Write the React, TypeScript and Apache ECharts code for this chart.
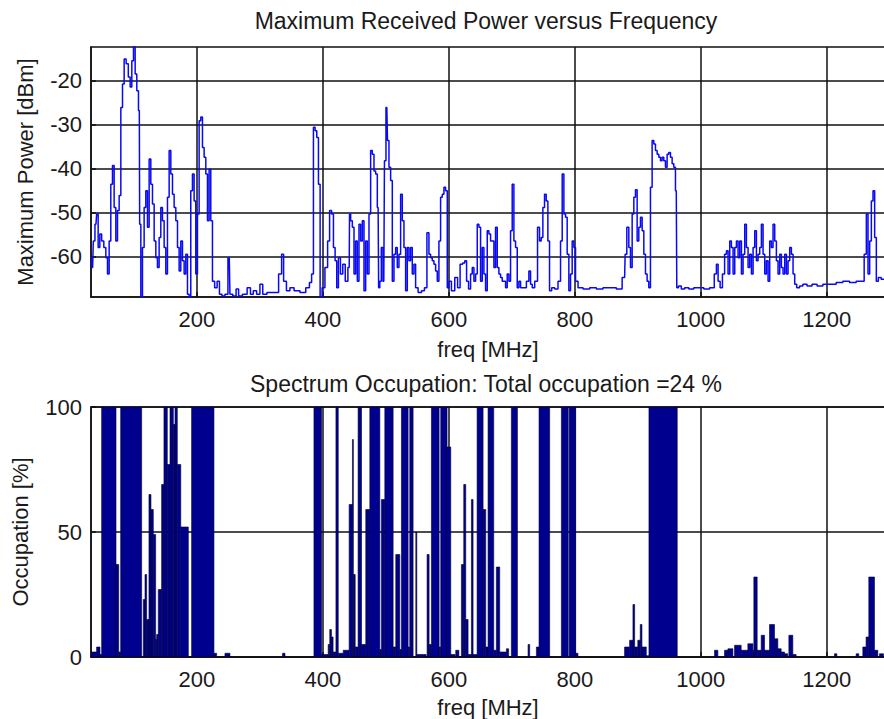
import React, { useEffect, useRef } from "react";
import * as echarts from "echarts";

// ---------- data ----------
const freqTicks: number[] = [200, 400, 600, 800, 1000, 1200];
const powerTicks: number[] = [-60, -50, -40, -30, -20];
const occupationTicks: number[] = [0, 50, 100];

const freqRange: [number, number] = [32, 1294];
const powerRange: [number, number] = [-69.1, -12.4];
const occupationRange: [number, number] = [0, 100];

const topTitle = "Maximum Received Power versus Frequency";
const bottomTitle = "Spectrum Occupation: Total occupation =24 %";
const freqLabel = "freq [MHz]";
const powerLabel = "Maximum Power [dBm]";
const occupationLabel = "Occupation [%]";

// [frequency MHz, maximum power dBm]
const maxPowerTrace: [number, number][] = [
  [32, -60.2], [34.6, -62.4], [36.7, -56.4], [39.9, -52.6], [42, -50.3], [44.7, -57.9], [47.3, -54.8], [50.5, -56.4],
  [54.2, -57.9], [56.9, -60.2], [59.5, -63.9], [62.1, -56.4], [64.8, -43.5], [67.4, -39.3], [70.1, -48.8], [72.7, -56.4],
  [75.4, -49.5], [78, -46.1], [80.7, -26.1], [83.3, -20.8], [86, -15.1], [89.6, -16.2], [92.8, -19.2], [95.5, -21.5],
  [98.1, -15.5], [100.8, -12], [103.4, -18.5], [106, -22.3], [108.7, -26.8], [109.8, -52.6], [112.4, -70], [115, -57.9],
  [117.7, -48.8], [120.3, -45], [123, -53.3], [125.6, -37.8], [128.3, -43.5], [130.9, -48], [133.6, -56.4], [136.2, -60.2],
  [138.8, -62.4], [141.5, -55.6], [144.1, -48.8], [146.8, -51.8], [149.4, -57.9], [152.1, -63.9], [154.7, -46.5], [157.4, -35.9],
  [160, -41.2], [162.7, -45.8], [165.3, -48.8], [168, -51.8], [170.6, -57.9], [173.2, -63.2], [175.9, -56.4], [178.5, -60.9],
  [181.2, -63.9], [183.8, -59.4], [186.5, -68.5], [189.1, -70], [191.7, -45], [194.4, -41.2], [197, -47.3], [199.7, -63.9],
  [202.3, -50.3], [205, -29.1], [207.6, -28.3], [210.3, -35.2], [212.9, -37.4], [215.6, -41.2], [218.2, -51.8], [220.8, -40.1],
  [223.5, -51.8], [226.1, -65.5], [230.4, -67], [234, -65.5], [237.8, -68.5], [242, -68.9], [247.3, -68.5], [251.5, -60.2],
  [253.6, -68.5], [260.5, -68.9], [264.2, -67.3], [268.4, -68.9], [276.4, -68.5], [283.3, -67], [287, -68.5], [292.3, -67.7],
  [297.5, -68.5], [302.8, -66.2], [306.5, -68.5], [316, -68.1], [326.6, -68.1], [333, -63.9], [336.2, -59.4], [339.3, -65.5],
  [345.2, -67.7], [350.4, -67], [358.4, -67.7], [369, -68.1], [376.9, -67], [380.6, -65.8], [383.8, -63.9], [386.4, -30.6],
  [389.1, -31.4], [391.7, -32.9], [394.4, -43.5], [397, -69.2], [400.7, -67], [406, -62.4], [409.2, -56.4], [412.3, -49.5],
  [415.5, -50.3], [418.2, -57.9], [420.8, -60.9], [423.4, -67], [426.1, -60.2], [429.8, -63.9], [433.5, -61.7], [437.7, -65.5],
  [441.9, -62.4], [442.9, -50.3], [445.5, -51.8], [448.2, -53.3], [450.8, -63.9], [453.4, -56.4], [456.1, -65.5], [458.7, -52.6],
  [461.4, -56.4], [464, -51.8], [466.7, -67.7], [469.3, -56.4], [472, -63.9], [474.6, -50.3], [477.2, -35.9], [479.9, -36.7],
  [482.5, -40.5], [485.2, -41.2], [487.8, -48.8], [489.4, -67], [491.5, -65.5], [494.2, -57.9], [496.8, -65.5], [498.9, -38.2],
  [501.6, -26.1], [503.7, -33.6], [506.3, -39.7], [509, -42.7], [511.6, -65.5], [514.3, -59.4], [516.9, -57.9], [519.5, -62.4],
  [522.2, -59.4], [524.8, -45.8], [527.5, -51.8], [530.1, -57.9], [532.8, -67.7], [535.4, -57.9], [538, -60.9], [540.7, -57.9],
  [543.3, -63.9], [546, -61.7], [548.6, -67], [553.9, -68.1], [559.2, -67.7], [563.4, -67], [567.1, -54.5], [569.8, -59.4],
  [572.4, -60.2], [575.1, -60.9], [577.7, -61.7], [580.4, -63.2], [583, -65.5], [585.6, -56.4], [588.3, -46.5], [590.9, -45.8],
  [593.6, -44.2], [596.2, -45], [598.9, -67], [601.5, -65.5], [606.8, -67.7], [612.1, -64.7], [615.8, -67], [620, -61.7],
  [623.7, -61.4], [626.9, -60.9], [629.5, -65.5], [633.2, -67.3], [635.9, -63.9], [638.5, -62.4], [641.2, -65.5], [643.8, -63.9],
  [646.5, -52.6], [649.1, -53.3], [651.7, -65.5], [654.4, -57.9], [657, -63.9], [659.7, -67.7], [662.3, -54.1], [665, -54.8],
  [667.6, -56.4], [670.3, -56.4], [672.9, -62.4], [675.5, -53.3], [678.2, -62.4], [680.8, -63.9], [683.5, -64.7], [686.1, -65.5],
  [688.8, -65.5], [691.4, -67], [694, -63.9], [696.7, -65.5], [699.3, -54.1], [702, -43.5], [704.6, -56.4], [707.3, -57.9],
  [709.9, -67], [712.6, -65.5], [715.2, -67], [720.5, -67], [725.8, -65.5], [728.4, -63.2], [731.1, -66.2], [733.7, -67],
  [739, -65.5], [742.7, -53.3], [745.3, -56.4], [748, -55.6], [750.6, -48.8], [753.3, -45.8], [755.9, -47.3], [758.6, -56.4],
  [761.2, -67.7], [765.4, -67], [770.7, -67.3], [776, -65.5], [778.7, -56.4], [781.3, -41.2], [784, -50.3], [786.6, -51],
  [789.2, -59.4], [791.9, -67.7], [794.5, -63.9], [797.2, -56.4], [799.8, -57.9], [802.5, -65.5], [807.8, -67], [818.4, -67.3],
  [828.9, -67], [839.5, -67.3], [850, -67], [860.6, -67], [871.2, -67.3], [879.1, -64.7], [880.7, -59.4], [884.4, -53.3],
  [887.1, -57.9], [889.7, -62.4], [892.4, -50.3], [895, -46.5], [897.6, -44.8], [900.3, -56.4], [902.9, -53.3], [905.6, -51],
  [908.2, -54.1], [910.9, -59.4], [913.5, -63.9], [916.1, -65.5], [918.8, -67], [921.4, -44.2], [924.1, -33.6], [926.7, -34.4],
  [929.4, -35.9], [932, -36.7], [934.7, -37.4], [937.3, -38.2], [939.9, -37.4], [942.6, -38.2], [945.2, -39.7], [947.9, -36.7],
  [950.5, -36.3], [953.2, -37.4], [955.8, -38.9], [958.5, -39.7], [961.1, -45], [962.7, -67], [966.4, -66.6], [971.7, -67.3],
  [977, -67], [984.9, -67.3], [992.8, -67], [1000.8, -67], [1008.7, -67.3], [1019.3, -67], [1023.5, -63.9], [1026.1, -61.7],
  [1028.8, -65.5], [1032.5, -67], [1036.2, -63.9], [1039.4, -59.4], [1042, -58.6], [1044.6, -63.9], [1047.3, -56.4], [1049.9, -57.9],
  [1052.6, -63.9], [1055.2, -57.9], [1057.9, -56.4], [1060.5, -60.2], [1063.2, -56.4], [1065.8, -63.9], [1068.4, -59.4], [1071.1, -52.6],
  [1073.7, -57.9], [1076.4, -62.4], [1079, -59.4], [1081.7, -63.9], [1084.3, -57.9], [1087, -54.1], [1089.6, -60.9], [1092.2, -59.4],
  [1094.9, -57.9], [1097.5, -52.6], [1100.2, -59.4], [1102.8, -63.9], [1105.5, -60.9], [1108.1, -65.5], [1110.7, -56.4], [1113.4, -57.9],
  [1116, -52.6], [1118.7, -56.4], [1121.3, -60.9], [1124, -63.9], [1126.6, -59.4], [1129.3, -62.4], [1131.9, -63.9], [1134.6, -59.4],
  [1137.2, -63.9], [1139.8, -60.9], [1142.5, -57.9], [1145.1, -59.4], [1147.8, -63.9], [1150.4, -66.2], [1154.1, -67], [1159.4, -66.6],
  [1164.7, -66.2], [1172.6, -66.6], [1180.6, -66.2], [1188.5, -66.6], [1199.1, -66.2], [1209.6, -66.2], [1220.2, -65.8], [1230.8, -65.5],
  [1241.4, -65.8], [1251.9, -65.5], [1257.2, -65.5], [1261.5, -59.4], [1264.1, -50.3], [1266.8, -63.9], [1269.4, -56.4], [1272.1, -47.3],
  [1274.7, -45], [1277.3, -55.6], [1280, -65.5], [1283.7, -64.7], [1289, -65.1], [1294, -65],
];

// [bin start MHz, bin end MHz, occupation %]
const occupationBins: [number, number, number][] = [
  [32, 40.9, 2], [40.9, 46.3, 4], [46.3, 48.9, 1], [48.9, 71.7, 100], [71.7, 76, 37], [76, 79.1, 2],
  [79.1, 112.4, 100], [115, 117.7, 23], [117.7, 120.3, 33], [120.3, 124, 15], [124, 127.2, 65], [127.2, 130.9, 59],
  [130.9, 134.6, 49], [134.6, 136.2, 7], [136.2, 138.8, 9], [138.8, 144.1, 27], [144.1, 147.8, 69], [147.8, 153.1, 100],
  [153.1, 157.4, 77], [157.4, 162.7, 100], [162.7, 165.3, 93], [165.3, 169, 100], [169, 174.5, 77], [174.5, 186.5, 52],
  [191.7, 227.2, 100], [227.2, 231.4, 1.5], [244.6, 252.6, 1.5], [336, 340, 1.5],
  [385.9, 398, 100], [398, 408.5, 1], [408.5, 411, 5], [411, 413.7, 11], [413.7, 416.3, 8], [416.3, 420.8, 2],
  [420.8, 424.5, 100], [424.5, 432.4, 1.5], [432.4, 441.8, 2.7], [441.8, 447, 61], [447, 448.5, 87], [448.5, 451.4, 33],
  [451.4, 456, 4], [456, 461.4, 100], [461.4, 468.2, 5], [468.2, 474.6, 59], [474.6, 490.5, 100], [490.5, 493, 3],
  [493, 498.4, 63], [498.4, 511.6, 100], [511.6, 515.8, 4], [515.8, 522.2, 41], [522.2, 524.8, 3], [524.8, 535.4, 100],
  [535.4, 538, 4], [538, 543.3, 100], [547.6, 549.2, 50], [549.2, 564, 1], [565.5, 568.7, 41], [568.7, 572.4, 5],
  [572.4, 584.6, 100], [584.6, 587.2, 4], [587.2, 597.2, 100], [597.2, 603.1, 84], [603.1, 610, 1], [611, 616, 2.7],
  [620, 623.7, 37], [623.7, 626.9, 69], [626.9, 630.6, 15], [630.6, 635.9, 1], [635.9, 638.5, 63], [638.5, 644.9, 1],
  [644.9, 654.4, 100], [654.4, 658.6, 59], [658.6, 662.3, 4], [662.3, 671.3, 100], [671.3, 675.5, 2.7], [675.5, 680.8, 36],
  [680.8, 691.4, 2], [691.4, 695, 3.3], [699.3, 708.9, 100], [725.8, 728.4, 5], [739, 743.2, 4], [743.2, 760.1, 100],
  [778.7, 789.5, 100], [791, 801.4, 100], [801.4, 805, 1.5], [879, 887, 4], [887, 892.3, 6.7], [892.3, 895, 21],
  [895, 900, 4], [900, 903.9, 6.7], [903.9, 906.6, 13], [906.6, 913.5, 4], [913.5, 917.7, 0.5], [917.7, 962.6, 100],
  [1021.8, 1027.1, 2.7], [1037.7, 1043, 2.7], [1043, 1051, 3.3], [1053.6, 1064.1, 4.7], [1064.1, 1074.7, 2.7], [1074.7, 1082.7, 5.3],
  [1082.7, 1084.2, 2.7], [1084.2, 1089.5, 32], [1089.5, 1095.9, 2.7], [1095.9, 1101.2, 8.7], [1101.2, 1109.1, 2.7], [1109.1, 1117, 13],
  [1117, 1122.3, 7.3], [1122.3, 1127.6, 3.3], [1127.6, 1132.9, 2], [1132.9, 1138, 1.3], [1139.8, 1146.1, 8.7], [1146.1, 1151.4, 1],
  [1212.2, 1216, 1.3], [1246.6, 1250.8, 1.3], [1257.2, 1262.4, 4], [1262.4, 1266.7, 8], [1266.7, 1275.7, 32], [1275.7, 1281, 2.7],
  [1283.7, 1290, 1.3],
];

// ---------- styling ----------
const FONT = '"Liberation Sans", Arial, Helvetica, sans-serif';
const TEXT = "#1a1a1a";
const LINE = "#111111";
const TRACE = "#0a0af0";
const BAR_FILL = "#00008f";

const TOP_GRID = { left: 91, top: 47, width: 795, height: 250 };
const BOTTOM_GRID = { left: 91, top: 407, width: 795, height: 250 };

const plainNumber = (v: number) => String(v);

function xAxisFor(gridIndex: number) {
  return {
    type: "value",
    gridIndex,
    min: freqRange[0],
    max: freqRange[1],
    axisLine: { show: true, onZero: false, lineStyle: { color: LINE, width: 1.5 } },
    axisTick: { show: true, inside: true, length: 5, customValues: freqTicks, lineStyle: { color: LINE, width: 1.5 } },
    axisLabel: {
      customValues: freqTicks,
      formatter: plainNumber,
      margin: 22,
      verticalAlign: "middle",
      fontSize: 22,
      fontFamily: FONT,
      color: TEXT,
    },
    splitLine: { show: true, lineStyle: { color: LINE, width: 1.5 } },
  };
}

function yAxisFor(gridIndex: number, range: [number, number], ticks: number[]) {
  return {
    type: "value",
    gridIndex,
    min: range[0],
    max: range[1],
    axisLine: { show: true, onZero: false, lineStyle: { color: LINE, width: 1.5 } },
    axisTick: { show: true, inside: true, length: 5, customValues: ticks, lineStyle: { color: LINE, width: 1.5 } },
    axisLabel: {
      customValues: ticks,
      formatter: plainNumber,
      margin: 9,
      fontSize: 22,
      fontFamily: FONT,
      color: TEXT,
    },
    splitLine: { show: true, lineStyle: { color: LINE, width: 1.5 } },
  };
}

function textEl(text: string, x: number, y: number, size: number, rotate = false) {
  return {
    type: "text",
    x,
    y,
    rotation: rotate ? Math.PI / 2 : 0,
    silent: true,
    style: {
      text,
      x: 0,
      y: 0,
      fill: TEXT,
      font: `${size}px ${FONT}`,
      align: "center",
      verticalAlign: "middle",
      textAlign: "center",
      textVerticalAlign: "middle",
    },
  };
}

export default function App() {
  const ref = useRef<HTMLDivElement | null>(null);

  useEffect(() => {
    if (!ref.current) return;
    const chart = echarts.init(ref.current, null, { renderer: "svg" });

    const option: any = {
      animation: false,
      backgroundColor: "#ffffff",
      grid: [
        { ...TOP_GRID, show: true, borderColor: LINE, borderWidth: 1.5, containLabel: false, outerBoundsMode: "none" },
        { ...BOTTOM_GRID, show: true, borderColor: LINE, borderWidth: 1.5, containLabel: false, outerBoundsMode: "none" },
      ],
      xAxis: [xAxisFor(0), xAxisFor(1)],
      yAxis: [yAxisFor(0, powerRange, powerTicks), yAxisFor(1, occupationRange, occupationTicks)],
      graphic: [
        textEl(topTitle, 486, 21, 23),
        textEl(freqLabel, 488, 349, 22),
        textEl(bottomTitle, 486, 384, 23),
        textEl(freqLabel, 488, 707, 22),
        textEl(powerLabel, 25, 172, 22, true),
        textEl(occupationLabel, 20, 532, 22, true),
      ],
      series: [
        {
          type: "line",
          xAxisIndex: 0,
          yAxisIndex: 0,
          data: maxPowerTrace,
          step: "middle",
          showSymbol: false,
          symbol: "none",
          clip: true,
          lineStyle: { color: TRACE, width: 1.5 },
          z: 5,
        },
        {
          type: "custom",
          xAxisIndex: 1,
          yAxisIndex: 1,
          data: occupationBins,
          encode: { x: [0, 1], y: 2 },
          clip: true,
          z: 5,
          renderItem: (params: any, api: any) => {
            const lo = api.value(0);
            const hi = api.value(1);
            const v = api.value(2);
            const p0 = api.coord([lo, v]);
            const p1 = api.coord([hi, 0]);
            return {
              type: "rect",
              shape: { x: p0[0], y: p0[1], width: p1[0] - p0[0], height: p1[1] - p0[1] },
              style: { fill: BAR_FILL, stroke: "#000030", lineWidth: 0.6 },
            };
          },
        },
      ],
    };

    chart.setOption(option);
    return () => chart.dispose();
  }, []);

  return (
    <div
      ref={ref}
      style={{ position: "fixed", left: 0, top: 0, width: 884, height: 719, background: "#fff" }}
    />
  );
}
